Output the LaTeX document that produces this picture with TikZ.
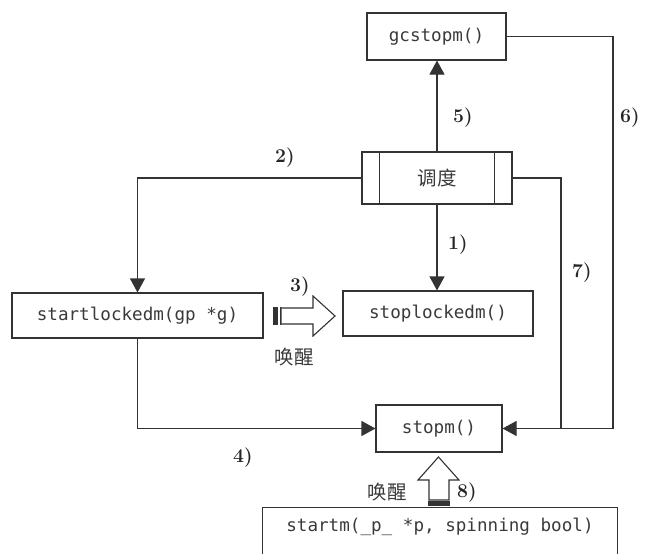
\documentclass[tikz,border=0pt]{standalone}
\usepackage{fontspec}
\setmonofont{DejaVu Sans Mono}
\newfontfamily\cjk{Noto Sans CJK SC}
\usetikzlibrary{arrows.meta}
\definecolor{linec}{HTML}{333333}
\definecolor{textc}{HTML}{3A3A3A}
\begin{document}
\begin{tikzpicture}[x=1pt,y=-1pt,
  box/.style={draw=linec, line width=1.1pt, inner sep=0pt, font=\fontsize{17.6}{20}\selectfont\ttfamily, text=textc},
  conn/.style={draw=linec, line width=1.1pt},
  arr/.style={conn, -{Triangle[length=14pt,width=15pt]}},
  num/.style={font=\fontsize{19.5}{22}\selectfont\bfseries, text=black!85},
  wake/.style={font=\fontsize{19.5}{22}\selectfont\cjk, text=textc},
]
\useasboundingbox (0,0) rectangle (645,554);
\clip (0,0) rectangle (645,554);

\node[box, minimum width=139pt, minimum height=47pt] (gc) at (436.5,36.5) {gcstopm()};
\node[box, minimum width=150pt, minimum height=52pt, font=\fontsize{19.5}{22}\selectfont\cjk] (sched) at (437,178) {调度};
\draw[conn] ([xshift=18pt]sched.north west) -- ([xshift=18pt]sched.south west);
\draw[conn] ([xshift=-18pt]sched.north east) -- ([xshift=-18pt]sched.south east);
\node[box, minimum width=251pt, minimum height=45pt] (sl) at (137.5,315.5) {startlockedm(gp *g)};
\node[box, minimum width=190pt, minimum height=45pt] (stl) at (438,313.5) {stoplockedm()};
\node[box, minimum width=126pt, minimum height=47pt] (stopm) at (439,428.5) {stopm()};
\node[box, draw=none, minimum width=354pt, minimum height=38pt] (startm) at (440,527) {startm(\_p\_ *p, spinning bool)};
\draw[conn] ([yshift=-30pt]startm.south west) -- (startm.north west) -- (startm.north east) -- ([yshift=-30pt]startm.south east);

\coordinate (c6) at (613,200);
\coordinate (c7) at (561,428.5);

\draw[arr] (sched.north) -- (sched.north |- gc.south);
\draw[arr] (gc.east) -| (c6) |- (stopm.east);
\draw[conn] (sched.east) -| (c7);
\draw[arr] (sched.west) -| (sl.north);
\draw[arr] (sched.south) -- (sched.south |- stl.north);
\draw[arr] (sl.south) |- (stopm.west);

% hollow arrow 3
\draw[conn, fill=white] (281,308) -- (313,308) -- (313,296) -- (335,316) -- (313,336) -- (313,324) -- (281,324) -- cycle;
\fill[linec] (273,307) rectangle (278,325);
\draw[conn, line width=0.8pt] (280,307) -- (280,325);

% hollow arrow 8
\draw[conn, fill=white] (429,500) -- (429,480) -- (418,480) -- (438.5,457) -- (459,480) -- (449,480) -- (449,500) -- cycle;
\fill[linec] (428,501) rectangle (450,506);

\node[num] (l5) at (463,118) {5)};
\node[num] (l6) at (630,118) {6)};
\node[num] (l2) at (285,158) {2)};
\node[num] (l1) at (458,245) {1)};
\node[num] (l7) at (582,273) {7)};
\node[num] (l3) at (300,287) {3)};
\node[num] (l4) at (243,458) {4)};
\node[num] (l8) at (467,493) {8)};
\node[wake] (w1) at (294,357) {唤醒};
\node[wake] (w2) at (387,492) {唤醒};
\end{tikzpicture}
\end{document}
